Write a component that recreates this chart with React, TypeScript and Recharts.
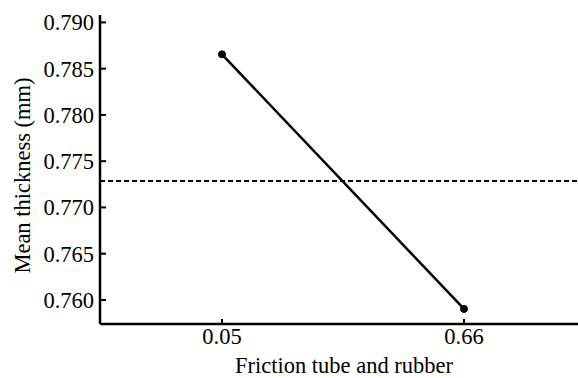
import React from 'react';
import { LineChart, Line, XAxis, YAxis, ReferenceLine } from 'recharts';

const frictionLevels: string[] = ['0.05', '0.66'];
const meanThickness: number[] = [0.78655, 0.75903];
const grandMean = 0.77285;
const yTicks: number[] = [0.760, 0.765, 0.770, 0.775, 0.780, 0.785, 0.790];

const data = frictionLevels.map((lvl, i) => ({ x: i, label: lvl, y: meanThickness[i] }));

const FONT = "'Liberation Serif', 'Times New Roman', Times, serif";
const FS = 22.5;

const YLabel = (props: any) => {
  const vb = props.viewBox || {};
  const cx = vb.x + 30;
  const cy = vb.y + vb.height / 2 + 6;
  return (
    <text
      x={cx}
      y={cy}
      transform={`rotate(-90, ${cx}, ${cy})`}
      textAnchor="middle"
      style={{ fontFamily: FONT, fontSize: FS }}
      fill="#000"
    >
      Mean thickness (mm)
    </text>
  );
};

const XLabel = (props: any) => {
  const vb = props.viewBox || {};
  const cx = vb.x + vb.width / 2 + 5;
  const cy = vb.y + vb.height - 5;
  return (
    <text
      x={cx}
      y={cy}
      textAnchor="middle"
      style={{ fontFamily: FONT, fontSize: FS }}
      fill="#000"
    >
      Friction tube and rubber
    </text>
  );
};

export default function App() {
  return (
    <div style={{ position: 'absolute', left: 0, top: 0, background: '#fff', fontFamily: FONT }}>
      <LineChart
        width={578}
        height={378}
        data={data}
        margin={{ top: 15, right: 0, bottom: 0, left: 0 }}
        style={{ fontFamily: FONT }}
      >
        <XAxis
          dataKey="x"
          type="number"
          domain={[-0.504, 1.471]}
          allowDataOverflow
          ticks={[0, 1]}
          tickFormatter={(v: number) => frictionLevels[v]}
          height={54}
          axisLine={{ stroke: '#000', strokeWidth: 2.5 }}
          tickLine={{ stroke: '#000', strokeWidth: 2 }}
          tickSize={-5}
          tickMargin={9}
          tick={{ fill: '#000', fontSize: FS, style: { fontFamily: FONT } }}
          label={<XLabel />}
        />
        <YAxis
          type="number"
          domain={[0.7574, 0.7908]}
          allowDataOverflow
          ticks={yTicks}
          tickFormatter={(v: number) => v.toFixed(3)}
          width={100}
          axisLine={{ stroke: '#000', strokeWidth: 2.5 }}
          tickLine={{ stroke: '#000', strokeWidth: 2 }}
          tickSize={-6}
          tickMargin={12}
          tick={{ fill: '#000', fontSize: FS, style: { fontFamily: FONT } }}
          label={<YLabel />}
        />
        <ReferenceLine
          y={grandMean}
          stroke="#000"
          strokeWidth={2}
          strokeDasharray="5 3"
          ifOverflow="extendDomain"
        />
        <Line
          type="linear"
          dataKey="y"
          stroke="#000"
          strokeWidth={2.5}
          dot={{ r: 3.5, fill: '#000', stroke: '#000', strokeWidth: 1 }}
          isAnimationActive={false}
        />
      </LineChart>
    </div>
  );
}
